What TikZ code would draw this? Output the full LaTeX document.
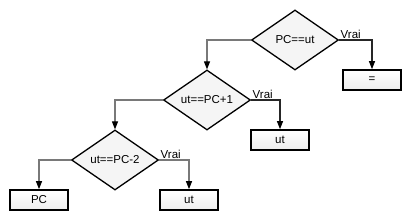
\documentclass[tikz,border=0pt]{standalone}
\usepackage{fontspec}
\setmainfont{Liberation Sans}
\usetikzlibrary{arrows.meta,positioning,shapes.geometric,shadows}

\begin{document}
\begin{tikzpicture}[x=1pt,y=-1pt,font=\fontsize{11.5}{13}\selectfont,
  test/.style={diamond,draw,line width=1.3pt,fill=gray!8,inner sep=0pt,aspect=1.45,minimum width=87pt,minimum height=60pt},
  res/.style={rectangle,draw,line width=1.6pt,top color=white,bottom color=gray!14,minimum width=58pt,minimum height=20pt,drop shadow={shadow xshift=1.2pt,shadow yshift=-1.2pt,fill=gray!60,opacity=1}},
  conn/.style={draw=gray!95!black,line width=1.1pt,-{Triangle[length=8pt,width=6pt,color=black]}},
  yes/.style={conn,draw=black!85},
  lab/.style={above right,inner sep=1pt}]
\useasboundingbox (0,0) rectangle (410,220);
% tests
\node[test] (t1) at (295,40) {PC==ut};
\node[test] (t2) at (207,100) {ut==PC+1};
\node[test] (t3) at (115,160) {ut==PC-2};
% results
\node[res] (r1) at (372,80) {=};
\node[res] (r2) at (280,140) {ut};
\node[res] (r3) at (189,200) {ut};
\node[res] (r4) at (39,200) {PC};
% branches
\draw[yes] (t1.east) node[lab]{Vrai} -| (r1.north);
\draw[conn] (t1.west) -| (t2.north);
\draw[yes] (t2.east) node[lab]{Vrai} -| (r2.north);
\draw[conn] (t2.west) -| (t3.north);
\draw[conn] (t3.east) node[lab]{Vrai} -| (r3.north);
\draw[conn] (t3.west) -| (r4.north);
\end{tikzpicture}
\end{document}
